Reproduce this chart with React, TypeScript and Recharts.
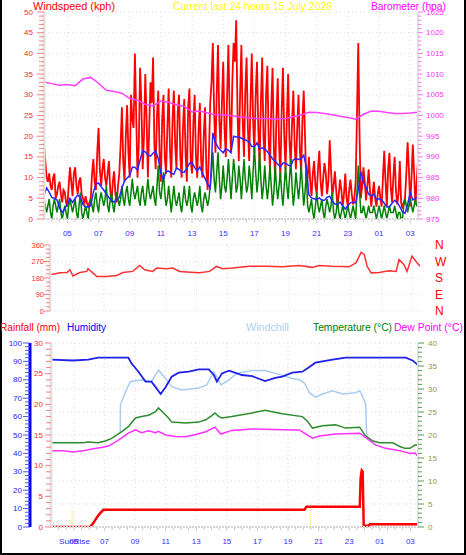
import React from 'react';
import { LineChart, ComposedChart, Line, XAxis, YAxis, CartesianGrid, ReferenceLine } from 'recharts';

const FONT = '"Liberation Sans", Arial, sans-serif';

// ---- time axis: decimal hours from 03:30 (day 1) to 03:30 (day 2) ----
const START_H = 3.5;
const END_H = 27.5;
const HOUR_TICKS = [5, 7, 9, 11, 13, 15, 17, 19, 21, 23, 25, 27];
const SUNRISE_H = 4.88;
const SUNSET_H = 20.46;

// ---- wind: readings on the 10-minute marks from 03:30 ----
const GUST_KPH = [
  18, 10, 11, 7, 11, 6, 9, 4, 6.5, 3,
  12.5, 5.5, 12.5, 6, 10, 5, 5.5, 3, 5, 14.5,
  7, 22, 8, 14.5, 8, 14, 4, 11.5, 4, 11,
  27, 9, 27.5, 10, 24, 40, 10, 36.5, 12, 35,
  10, 33, 39, 12, 31, 9, 30, 11, 31.5, 10,
  31, 12, 30, 10, 29, 9, 31.5, 11, 30, 10,
  28, 10, 27, 7, 28, 42.5, 16, 42, 17, 38,
  15, 42, 16, 42.5, 48, 14, 42, 15, 39, 14,
  40, 16, 38, 13, 39, 14, 37, 12, 36.5, 10,
  34, 10, 36.5, 12, 35, 13, 31, 12, 30, 11,
  31, 8, 15, 5.5, 14, 6, 16.5, 5.5, 13.5, 6,
  19, 5.5, 11.5, 3, 9.5, 3, 11, 3, 9.5, 3.5,
  9, 42.5, 5, 12.5, 4.5, 12, 3, 9, 3, 8,
  3, 16.5, 3, 16, 4, 15, 3.5, 14, 2.5, 5,
  18.5, 3, 18, 3.5, 14,
];
// readings 5 minutes after each 10-minute mark
const GUST_MID_KPH = [
  14, 9, 8, 10, 5, 8, 6, 7, 4, 8,
  9, 11, 8, 9, 6, 3.5, 4, 4, 11, 9,
  16, 12, 12, 10, 11, 7, 9, 6, 8, 18,
  14, 20, 16, 30, 22, 25, 18, 28, 20, 24,
  22, 28, 18, 25, 16, 24, 15, 22, 17, 24,
  18, 26, 15, 22, 16, 27, 14, 23, 15, 21,
  14, 20, 12, 16, 33, 26, 30, 24, 28, 22,
  30, 25, 33, 38, 26, 30, 24, 31, 22, 28,
  24, 30, 22, 28, 20, 30, 19, 27, 17, 25,
  18, 26, 20, 24, 19, 23, 18, 22, 17, 24,
  20, 10, 9, 11, 8, 12, 9, 10, 11, 9,
  12, 8, 7, 6, 7, 6, 5, 7, 6, 5,
  25, 20, 8, 9, 8, 7, 6, 5, 6, 5,
  10, 9, 12, 8, 10, 7, 6, 4, 4, 11,
  12, 10, 11, 9,
];
const SPEED_KPH = [
  4.8, 1.6, 4.8, 0, 4.8, 1.6, 4.8, 0, 3.2, 0,
  4.8, 1.6, 4.8, 0, 6.4, 0, 3.2, 0, 4.8, 1.6,
  6.4, 1.6, 6.4, 3.2, 8, 1.6, 6.4, 1.6, 6.4, 3.2,
  8, 3.2, 8, 3.2, 9.7, 4.8, 8, 3.2, 8, 3.2,
  9.7, 4.8, 8, 3.2, 12.9, 4.8, 11.3, 3.2, 8, 1.6,
  8, 3.2, 6.4, 1.6, 8, 3.2, 8, 1.6, 6.4, 3.2,
  8, 1.6, 6.4, 3.2, 8, 16.1, 6.4, 16.1, 4.8, 12.9,
  6.4, 14.5, 4.8, 14.5, 6.4, 12.9, 4.8, 14.5, 6.4, 12.9,
  4.8, 17.7, 6.4, 16.1, 4.8, 12.9, 4.8, 12.9, 3.2, 12.9,
  4.8, 11.3, 3.2, 12.9, 4.8, 14.5, 3.2, 11.3, 4.8, 12.9,
  3.2, 11.3, 1.6, 4.8, 0, 6.4, 1.6, 4.8, 0, 4.8,
  1.6, 6.4, 0, 4.8, 0, 3.2, 0, 3.2, 0, 3.2,
  0, 12.9, 1.6, 3.2, 0, 3.2, 1.6, 3.2, 0, 3.2,
  0, 3.2, 0, 3.2, 1.6, 3.2, 0, 1.6, 0, 4.8,
  1.6, 4.8, 1.6, 4.8, 3.2,
];
const SPEED_MID_KPH = [
  3.2, 3.2, 1.6, 3.2, 3.2, 3.2, 1.6, 1.6, 1.6, 3.2,
  3.2, 3.2, 1.6, 3.2, 1.6, 1.6, 1.6, 3.2, 3.2, 4.8,
  3.2, 4.8, 4.8, 4.8, 3.2, 4.8, 3.2, 4.8, 4.8, 4.8,
  4.8, 6.4, 4.8, 6.4, 6.4, 6.4, 4.8, 6.4, 4.8, 6.4,
  6.4, 6.4, 4.8, 8, 6.4, 8, 6.4, 4.8, 4.8, 4.8,
  4.8, 4.8, 3.2, 4.8, 4.8, 4.8, 3.2, 4.8, 4.8, 4.8,
  3.2, 4.8, 4.8, 4.8, 11.3, 9.7, 11.3, 9.7, 8, 8,
  9.7, 9.7, 9.7, 11.3, 8, 9.7, 9.7, 9.7, 8, 9.7,
  11.3, 11.3, 9.7, 9.7, 8, 8, 8, 8, 6.4, 8,
  8, 6.4, 8, 8, 9.7, 8, 6.4, 8, 8, 8,
  6.4, 3.2, 3.2, 1.6, 3.2, 3.2, 3.2, 1.6, 3.2, 3.2,
  3.2, 1.6, 1.6, 1.6, 1.6, 1.6, 1.6, 1.6, 1.6, 1.6,
  6.4, 6.4, 1.6, 1.6, 1.6, 1.6, 1.6, 1.6, 1.6, 1.6,
  1.6, 1.6, 1.6, 1.6, 1.6, 1.6, 1.6, 0, 3.2, 3.2,
  3.2, 3.2, 3.2, 3.2,
];
const AVG_KPH = [
  5.8, 7.5, 6.5, 5.2, 5, 4.6, 2.7, 1.6, 2.5, 3.6,
  5, 4, 5, 5.8, 5.3, 3.5, 2.9, 2.9, 3.2, 6.5,
  8.5, 8.7, 7.8, 7, 6, 5.2, 4.5, 4.1, 4.6, 5.2,
  7.5, 9.2, 9.9, 10.5, 12.5, 12.5, 11.8, 14.3, 16.5, 16.2,
  15.5, 15.2, 15.9, 16.5, 14.5, 11, 9.5, 11.5, 11.6, 11,
  10.8, 12.3, 12, 11.3, 11.3, 12.2, 13.5, 13.6, 12.4, 11.6,
  12.6, 11, 9.8, 8.4, 7.5, 20.8, 18.5, 17.3, 16.6, 16,
  17, 16.6, 16, 20, 19.8, 19.8, 19.5, 19.2, 19, 18.6,
  17.5, 17.5, 18.4, 16.9, 17.2, 16.9, 16.3, 15.5, 14.5, 14,
  13.2, 12.6, 13.5, 13.5, 13, 12.8, 14.3, 14.6, 14.4, 14.6,
  15.4, 12.6, 5.8, 5.1, 4.9, 4.7, 5.1, 4.5, 4.5, 5.3,
  5.5, 4.3, 3.6, 3.5, 4.1, 3.2, 2.4, 3.2, 3.9, 4.1,
  3.9, 7, 11.5, 8.9, 7.6, 6, 5.6, 6, 4.7, 4.9,
  4.6, 3.8, 2.9, 2.9, 3.8, 4.5, 3.9, 3, 1.7, 1.4,
  3.5, 6.5, 4.6, 5, 5.3,
];

// ---- barometer (30-minute samples from 03:30) ----
const BARO_HPA = [
  1008.1, 1007.7, 1007.3, 1007.5, 1007.2, 1008.8, 1009.2, 1007.8, 1006.1, 1005.8,
  1005.4, 1004.1, 1003.7, 1002.7, 1002.3, 1003.5, 1003.2, 1002.6, 1002.2, 1000.9,
  1001.1, 1000.6, 1000.2, 1000.1, 1000, 999.7, 999.5, 999.3, 999.3, 999.2,
  999.1, 999.3, 999.7, 1000.1, 1000.8, 1000.7, 1000.5, 1000.2, 999.8, 999.5,
  999.1, 1000.3, 1001.1, 1001, 1000.7, 1000.5, 1000.5, 1000.6, 1000.8,
];

// ---- wind direction ----
const DIR_TIMES = [3.5, 4.15, 4.6, 4.79, 4.99, 5.44, 5.89, 5.96, 6.28, 6.54, 7.19, 7.83, 8.22, 8.87, 9.32, 9.64, 10.16, 10.42, 11.07, 11.46, 11.91, 12.36, 13.2, 13.85, 14.3, 14.69, 15.34, 16.44, 17.54, 18.57, 19.67, 20.51, 20.96, 21.81, 22.9, 23.36, 23.68, 23.88, 24.07, 24.33, 24.85, 25.49, 25.95, 26.14, 26.46, 26.66, 26.98, 27.3, 27.5];
const DIR_DEG = [197, 208, 210, 225, 191, 210, 216, 231, 208, 188, 188, 193, 210, 216, 248, 225, 216, 234, 231, 234, 216, 213, 208, 216, 243, 231, 234, 244, 244, 241, 248, 238, 248, 244, 241, 264, 320, 309, 244, 208, 210, 220, 216, 281, 253, 216, 300, 264, 244];

// ---- temperature / dew point / windchill (°C), humidity (%), rain (mm) ----
const TEMP_TIMES = [3.5, 4.62, 5.61, 5.93, 6.58, 7.05, 7.44, 7.71, 8.11, 8.56, 9.02, 9.42, 9.88, 10.34, 10.53, 10.86, 11.19, 11.39, 12.31, 13.16, 13.62, 14.02, 14.22, 14.48, 14.68, 15.33, 16.65, 17.5, 18.62, 19.94, 20.27, 20.6, 21.25, 22.11, 22.77, 23.69, 24.02, 24.55, 25.0, 25.85, 26.31, 26.64, 26.97, 27.3, 27.5];
const TEMP_C = [18.3, 18.3, 18.3, 18.5, 18.3, 18.7, 19.2, 19.8, 20.7, 21.8, 23.7, 24, 24.3, 25.1, 25.9, 24.8, 23.7, 22.8, 22.6, 22.8, 23.3, 24.2, 24.8, 24, 23.7, 24, 24.8, 25.4, 24.6, 24, 23, 21.5, 22, 22.2, 21.5, 21.7, 20, 18.7, 18.3, 18.3, 17.5, 17.1, 17.1, 17.8, 17.8];

const DEW_TIMES = [3.5, 4.29, 4.95, 5.61, 6.26, 6.79, 7.25, 7.91, 8.56, 9.02, 9.42, 9.88, 10.34, 10.53, 10.99, 11.65, 12.31, 12.97, 13.62, 14.22, 14.61, 15.33, 16.65, 17.97, 19.74, 19.94, 20.6, 21.05, 22.11, 23.69, 24.02, 24.74, 25.39, 26.31, 26.97, 27.3, 27.5];
const DEW_C = [16.6, 16.6, 16.3, 16.6, 17, 17.3, 17.6, 18.9, 20.4, 21.1, 20.5, 20.9, 20.5, 20.8, 20, 19.7, 19.6, 20.1, 20.7, 21.7, 20.2, 21, 21.3, 21.2, 21.1, 20.7, 19.3, 19.8, 20.2, 20.4, 19.6, 17.8, 17.1, 16.6, 16, 16.1, 15.4];

const CHILL_TIMES = [8.03, 8.04, 8.37, 8.69, 9.42, 10.07, 10.53, 10.99, 11.39, 12.05, 13.16, 13.69, 14.15, 14.61, 15.14, 15.66, 16.65, 17.5, 18.16, 18.62, 19.28, 19.74, 20.07, 20.4, 20.79, 21.25, 21.91, 22.57, 23.42, 23.69, 23.88, 24.08, 24.14];
const CHILL_C = [20.5, 26.5, 29.4, 31.6, 32, 31.6, 34.1, 32.3, 30.5, 29.8, 30.2, 30.9, 33.8, 30.9, 32, 33.4, 34, 34, 33.4, 33, 32.3, 32, 31.3, 29.2, 28.2, 28.9, 29.6, 28.9, 29.2, 29.6, 28.3, 26.7, 20];

const HUM_TIMES = [3.5, 4.95, 5.93, 6.58, 8.56, 8.76, 9.22, 9.68, 10.07, 10.34, 10.67, 10.99, 11.39, 11.85, 12.51, 13.16, 13.82, 14.15, 14.35, 14.68, 15.14, 15.33, 15.99, 16.65, 17.5, 18.16, 18.62, 19.28, 19.94, 20.4, 20.79, 21.91, 22.77, 26.71, 27.17, 27.5];
const HUM_PCT = [91, 90.5, 91, 92, 92, 89, 84.4, 79, 79, 76, 72.3, 76, 81.7, 83.9, 84.4, 85.7, 85.7, 82.6, 79, 83.5, 85, 84.4, 82.6, 82, 79.3, 81, 81.7, 83.9, 84.4, 87, 89.3, 91, 92, 92, 90.4, 88];

const RAIN_TIMES = [3.5, 6.06, 6.26, 6.46, 6.66, 6.92, 20.07, 20.2, 23.69, 23.75, 23.82, 23.88, 23.95, 24.28, 24.35, 27.5];
const RAIN_MM = [0, 0, 0.6, 1.4, 2.1, 2.8, 2.8, 3.3, 3.3, 8, 9.2, 9, 0.2, 0.2, 0.45, 0.45];

// ---- tables built from the arrays ----
const windRows: { t: number; gust: number; speed: number }[] = [];
GUST_KPH.forEach((g, i) => {
  windRows.push({ t: START_H + i / 6, gust: g, speed: SPEED_KPH[i] });
  if (i < GUST_MID_KPH.length) {
    windRows.push({ t: START_H + (i + 0.5) / 6, gust: GUST_MID_KPH[i], speed: SPEED_MID_KPH[i] });
  }
});
const avgRows = AVG_KPH.map((a, i) => ({ t: START_H + i / 6, avg: a }));
const baroRows = BARO_HPA.map((p, i) => ({ t: START_H + i / 2, baro: p }));
const zip = (ts: number[], vs: number[], key: string) => ts.map((t, i) => ({ t, [key]: vs[i] }));
const dirRows = zip(DIR_TIMES, DIR_DEG, 'dir');
const tempRows = zip(TEMP_TIMES, TEMP_C, 'temp');
const dewRows = zip(DEW_TIMES, DEW_C, 'dew');
const chillRows = zip(CHILL_TIMES, CHILL_C, 'chill');
const humRows = zip(HUM_TIMES, HUM_PCT, 'hum');
const rainRows = zip(RAIN_TIMES, RAIN_MM, 'rain');

const range = (a: number, b: number, s: number) => {
  const r: number[] = [];
  for (let v = a; v <= b + 1e-9; v += s) r.push(Math.round(v * 1000) / 1000);
  return r;
};
const X_TICKS = range(4, 27, 0.5);
const hourLabel = (h: number) => String(Math.round(h) % 24).padStart(2, '0');

type YOpts = {
  side: 'left' | 'right';
  every: number;
  minorLen: number;
  majorLen: number;
  tickColor: string;
  labelColor: string;
  offset: number;
  fontSize?: number;
  fmt?: (v: number) => string;
};
const yTick = (o: YOpts) => (p: any) => {
  const { x, y, payload } = p;
  const v = Number(payload.value);
  const major = Math.abs(v / o.every - Math.round(v / o.every)) < 1e-6;
  const len = major ? o.majorLen : o.minorLen;
  const dir = o.side === 'left' ? -1 : 1;
  return (
    <g>
      {len > 0 && <line x1={x} x2={x + dir * len} y1={y} y2={y} stroke={o.tickColor} strokeWidth={1} />}
      {major && (
        <text
          x={x + dir * o.offset}
          y={y}
          textAnchor={o.side === 'left' ? 'end' : 'start'}
          dominantBaseline="central"
          fontSize={o.fontSize ?? 8}
          fontFamily={FONT}
          fill={o.labelColor}
        >
          {o.fmt ? o.fmt(v) : String(v)}
        </text>
      )}
    </g>
  );
};

const xTick = (p: any) => {
  const { x, y, payload } = p;
  const v = Number(payload.value);
  const major = Number.isInteger(v) && v % 2 === 1;
  return (
    <g>
      <line x1={x} x2={x} y1={y + 1} y2={y + (major ? 4 : 3)} stroke="#c8c8c8" strokeWidth={1} />
      {major && (
        <text x={x} y={y + 14} textAnchor="middle" dominantBaseline="central" fontSize={8} fontFamily={FONT} fill="#3030ff">
          {hourLabel(v)}
        </text>
      )}
    </g>
  );
};

const COMPASS: Record<number, string> = { 0: 'N', 90: 'E', 180: 'S', 270: 'W', 360: 'N' };

const GRID = { stroke: '#dcdcdc', strokeDasharray: '1 3' };

export default function App() {
  return (
    <div style={{ position: 'absolute', left: 0, top: 0, width: 466, height: 555, background: '#fff', overflow: 'hidden' }}>
      {/* Wind speed + barometer */}
      <div style={{ position: 'absolute', left: 0, top: 0 }}>
        <LineChart width={466} height={240} data={windRows} margin={{ top: 12, right: 0, bottom: 0, left: 0 }}>
          <CartesianGrid yAxisId="wind" {...GRID} horizontalValues={range(0, 50, 5)} verticalValues={HOUR_TICKS} />
          <XAxis
            dataKey="t"
            type="number"
            domain={[START_H, END_H]}
            allowDataOverflow
            ticks={X_TICKS}
            interval={0}
            tickSize={0}
            tickMargin={0}
            height={21}
            tick={xTick}
            tickLine={false}
            axisLine={{ stroke: '#d4d4d4', strokeWidth: 2, strokeDasharray: '2 1' }}
          />
          <YAxis
            yAxisId="wind"
            orientation="left"
            width={44}
            domain={[0, 50]}
            allowDataOverflow
            ticks={range(0, 50, 1)}
            interval={0}
            tickSize={0}
            tickMargin={0}
            tickLine={false}
            axisLine={{ stroke: '#e2e2e2', strokeWidth: 3 }}
            tick={yTick({ side: 'left', every: 5, minorLen: 5, majorLen: 7, tickColor: '#ff8080', labelColor: '#ff2a2a', offset: 11 })}
          />
          <YAxis
            yAxisId="baro"
            orientation="right"
            width={48}
            domain={[975, 1025]}
            allowDataOverflow
            ticks={range(975, 1025, 1)}
            interval={0}
            tickSize={0}
            tickMargin={0}
            tickLine={false}
            axisLine={{ stroke: '#e2e2e2', strokeWidth: 2 }}
            tick={yTick({ side: 'right', every: 5, minorLen: 3, majorLen: 5, tickColor: '#ff70ff', labelColor: '#ff30ff', offset: 8 })}
          />
          <Line yAxisId="wind" dataKey="gust" type="linear" stroke="#ff0000" strokeWidth={1.8} dot={false} isAnimationActive={false} />
          <Line yAxisId="wind" dataKey="speed" type="linear" stroke="#008000" strokeWidth={1.5} dot={false} isAnimationActive={false} />
          <Line yAxisId="wind" data={avgRows} dataKey="avg" type="linear" stroke="#2828ff" strokeWidth={1.5} dot={false} isAnimationActive={false} />
          <Line yAxisId="baro" data={baroRows} dataKey="baro" type="linear" stroke="#ff40ff" strokeWidth={1.5} dot={false} isAnimationActive={false} />
        </LineChart>
      </div>

      {/* Wind direction */}
      <div style={{ position: 'absolute', left: 0, top: 238 }}>
        <LineChart width={466} height={80} margin={{ top: 7, right: 0, bottom: 7, left: 0 }}>
          <CartesianGrid yAxisId="dir" {...GRID} horizontalValues={[0, 90, 180, 270, 360]} verticalValues={HOUR_TICKS} />
          <XAxis dataKey="t" type="number" domain={[START_H, END_H]} allowDataOverflow hide />
          <YAxis
            yAxisId="dir"
            orientation="left"
            width={50}
            domain={[0, 360]}
            allowDataOverflow
            ticks={range(0, 360, 22.5)}
            interval={0}
            tickSize={0}
            tickMargin={0}
            tickLine={false}
            axisLine={{ stroke: '#e2e2e2', strokeWidth: 3 }}
            tick={yTick({ side: 'left', every: 90, minorLen: 4, majorLen: 6, tickColor: '#ff8080', labelColor: '#ff3030', offset: 6, fontSize: 7.5 })}
          />
          <YAxis
            yAxisId="compass"
            orientation="right"
            width={46}
            domain={[0, 360]}
            allowDataOverflow
            ticks={[0, 90, 180, 270, 360]}
            interval={0}
            tickSize={0}
            tickMargin={0}
            tickLine={false}
            axisLine={false}
            tick={yTick({ side: 'right', every: 90, minorLen: 0, majorLen: 0, tickColor: '#ff0000', labelColor: '#ff0000', offset: 15, fontSize: 12, fmt: (v) => COMPASS[v] })}
          />
          <Line yAxisId="dir" data={dirRows} dataKey="dir" type="linear" stroke="#ff3030" strokeWidth={1.5} dot={false} isAnimationActive={false} />
        </LineChart>
      </div>

      {/* Rain / humidity / temperatures */}
      <div style={{ position: 'absolute', left: 0, top: 330 }}>
        <ComposedChart width={466} height={225} margin={{ top: 13, right: 0, bottom: 0, left: 0 }}>
          <CartesianGrid yAxisId="temp" {...GRID} horizontalValues={range(0, 40, 5)} verticalValues={HOUR_TICKS} />
          <XAxis
            dataKey="t"
            type="number"
            domain={[START_H, END_H]}
            allowDataOverflow
            ticks={X_TICKS}
            interval={0}
            tickSize={0}
            tickMargin={0}
            height={28}
            tick={xTick}
            tickLine={false}
            axisLine={{ stroke: '#d4d4d4', strokeWidth: 2, strokeDasharray: '2 1' }}
          />
          <YAxis
            yAxisId="a_rain"
            orientation="left"
            width={21}
            domain={[0, 30]}
            allowDataOverflow
            ticks={range(0, 30, 1)}
            interval={0}
            tickSize={0}
            tickMargin={0}
            tickLine={false}
            axisLine={{ stroke: '#e2e2e2', strokeWidth: 3 }}
            tick={yTick({ side: 'left', every: 5, minorLen: 5, majorLen: 6, tickColor: '#ff8080', labelColor: '#ff2a2a', offset: 8 })}
          />
          <YAxis
            yAxisId="b_hum"
            orientation="left"
            width={30}
            domain={[0, 100]}
            allowDataOverflow
            ticks={range(0, 100, 2)}
            interval={0}
            tickSize={0}
            tickMargin={0}
            tickLine={false}
            axisLine={{ stroke: '#0000ff', strokeWidth: 3 }}
            tick={yTick({ side: 'left', every: 10, minorLen: 5, majorLen: 7, tickColor: '#5050ff', labelColor: '#2020ff', offset: 8 })}
          />
          <YAxis
            yAxisId="temp"
            orientation="right"
            width={48}
            domain={[0, 40]}
            allowDataOverflow
            ticks={range(0, 40, 1)}
            interval={0}
            tickSize={0}
            tickMargin={0}
            tickLine={false}
            axisLine={{ stroke: '#e2e2e2', strokeWidth: 2 }}
            tick={yTick({ side: 'right', every: 5, minorLen: 4, majorLen: 6, tickColor: '#50a050', labelColor: '#8c9a3c', offset: 10 })}
          />
          <ReferenceLine yAxisId="a_rain" segment={[{ x: SUNRISE_H, y: 0 }, { x: SUNRISE_H, y: 3 }]} stroke="#ffe040" strokeDasharray="1 1" />
          <ReferenceLine yAxisId="a_rain" segment={[{ x: SUNSET_H, y: 0 }, { x: SUNSET_H, y: 3 }]} stroke="#ffe040" strokeDasharray="1 1" />
          <Line yAxisId="temp" data={chillRows} dataKey="chill" type="linear" stroke="#a8ccf2" strokeWidth={1.5} dot={false} isAnimationActive={false} />
          <Line yAxisId="temp" data={tempRows} dataKey="temp" type="linear" stroke="#2e8b2e" strokeWidth={1.5} dot={false} isAnimationActive={false} />
          <Line yAxisId="temp" data={dewRows} dataKey="dew" type="linear" stroke="#ff30ff" strokeWidth={1.5} dot={false} isAnimationActive={false} />
          <Line yAxisId="b_hum" data={humRows} dataKey="hum" type="linear" stroke="#2020e8" strokeWidth={1.8} dot={false} isAnimationActive={false} />
          <Line yAxisId="a_rain" data={rainRows} dataKey="rain" type="linear" stroke="#ff0000" strokeWidth={2.5} dot={false} isAnimationActive={false} />
        </ComposedChart>
      </div>

      {/* frame */}
      <div style={{ position: 'absolute', left: 0, top: 0, width: 466, height: 555, boxSizing: 'border-box', borderLeft: '2px solid #000', borderRight: '2px solid #000', borderBottom: '2px solid #000' }} />

      {/* titles */}
      <svg width={466} height={555} style={{ position: 'absolute', left: 0, top: 0, pointerEvents: 'none' }} fontFamily={FONT}>
        <text x={33} y={9.6} fontSize={11} fill="#ff0000" textLength={82} lengthAdjust="spacingAndGlyphs">Windspeed (kph)</text>
        <text x={173} y={9.6} fontSize={10.5} fill="#ffff00" textLength={159} lengthAdjust="spacingAndGlyphs">Current last 24 hours 15 July 2026</text>
        <text x={371} y={9.6} fontSize={10.5} fill="#ff00ff" textLength={75} lengthAdjust="spacingAndGlyphs">Barometer (hpa)</text>
        <text x={0} y={330.5} fontSize={10} fill="#ff0000" textLength={60} lengthAdjust="spacingAndGlyphs">Rainfall (mm)</text>
        <text x={67} y={330.5} fontSize={10} fill="#0000ff" textLength={39} lengthAdjust="spacingAndGlyphs">Humidity</text>
        <text x={246} y={330.5} fontSize={10} fill="#b0d0f2" textLength={43} lengthAdjust="spacingAndGlyphs">Windchill</text>
        <text x={313} y={330.5} fontSize={10} fill="#008000" textLength={79} lengthAdjust="spacingAndGlyphs">Temperature (°C)</text>
        <text x={394} y={330.5} fontSize={10} fill="#ff00ff" textLength={69} lengthAdjust="spacingAndGlyphs">Dew Point (°C)</text>
        <text x={59} y={544} fontSize={8} fill="#3030ff" textLength={31} lengthAdjust="spacingAndGlyphs">SunRise</text>
      </svg>
    </div>
  );
}
